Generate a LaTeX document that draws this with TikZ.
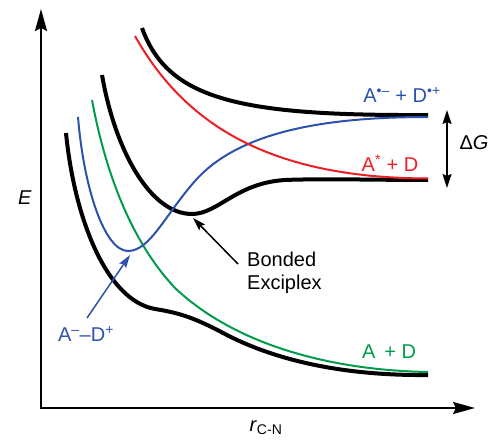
\documentclass[tikz,border=0pt]{standalone}
\usepackage{fontspec}
\setmainfont{Liberation Sans}
\usetikzlibrary{arrows.meta}
\definecolor{cblue}{RGB}{45,82,170}
\definecolor{cred}{RGB}{237,30,36}
\definecolor{cgreen}{RGB}{0,155,75}
\begin{document}
\begin{tikzpicture}[x=1pt,y=-1pt,
  axis/.style={line width=2.2pt,-{Stealth[length=22pt,width=12pt,inset=3pt]}},
  bcurve/.style={line width=4pt,black},
  ccurve/.style={line width=2pt},
  lbl/.style={font=\fontsize{20}{23}\selectfont, inner sep=0pt},
  pointer/.style={line width=1.5pt,-{Stealth[length=13pt,width=8pt,inset=2pt]}},
  gap/.style={line width=1.5pt,{Stealth[length=14pt,width=9pt,inset=2pt]}-{Stealth[length=14pt,width=9pt,inset=2pt]}}]
\useasboundingbox (0,0) rectangle (494,443);
% axes
\coordinate (origin) at (41,408);
\coordinate (ytip) at (41,9);
\coordinate (xtip) at (475,408);
\draw[axis] (41,409) -- (ytip);
\draw[axis] (40,408) -- (xtip);
% black curves
\draw[bcurve] (66,133) .. controls (74,215) and (105,300) .. (155,309)
  .. controls (180,313) and (195,318) .. (225,334)
  .. controls (265,355) and (330,376) .. (428,375);
\draw[bcurve] (102,75) .. controls (115,150) and (150,214) .. (192,214)
  .. controls (218,214) and (236,183) .. (285,180)
  .. controls (320,178.5) and (380,180) .. (428,180);
\draw[bcurve] (142,28) .. controls (168,100) and (240,116) .. (428,115);
% coloured curves
\draw[ccurve,cgreen] (92,100) .. controls (105,170) and (130,240) .. (175,288)
  .. controls (230,340) and (320,370) .. (428,372);
\draw[ccurve,cblue] (78,117) .. controls (84,190) and (105,251) .. (128,251)
  .. controls (150,251) and (165,215) .. (195,181)
  .. controls (240,130) and (330,117) .. (428,117);
\draw[ccurve,cred] (135,36) .. controls (185,125) and (270,178) .. (428,178.5);
% labels
\node[lbl,cblue] (lrad) at (402,95) {A\textsuperscript{•–} + D\textsuperscript{•+}};
\node[lbl,cred] (lstar) at (390,163) {A\textsuperscript{*} + D};
\node[lbl,cgreen] (lground) at (389,352) {A\, + D};
\node[lbl,cblue] (lad) at (86,334) {A\textsuperscript{–}–D\textsuperscript{+}};
\node[lbl,align=left,anchor=west] (lbond) at (247,273) {Bonded\\Exciplex};
\node[lbl] (lE) at (25,198) {\textit{E}};
\node[lbl] (lr) at (266,428) {\textit{r}\textsubscript{C-N}};
\node[lbl] (ldg) at (474,143) {Δ\textit{G}};
% pointers
\coordinate (bondtail) at (238,264);
\coordinate (bondtip) at (193,218);
\draw[pointer] (bondtail) -- (bondtip);
\coordinate (adtail) at (87,318);
\coordinate (adtip) at (130,255);
\draw[pointer,cblue] (adtail) -- (adtip);
\coordinate (gtop) at (447,110);
\coordinate (gbot) at (447,188);
\draw[gap] (gtop) -- (gbot);
\end{tikzpicture}
\end{document}
